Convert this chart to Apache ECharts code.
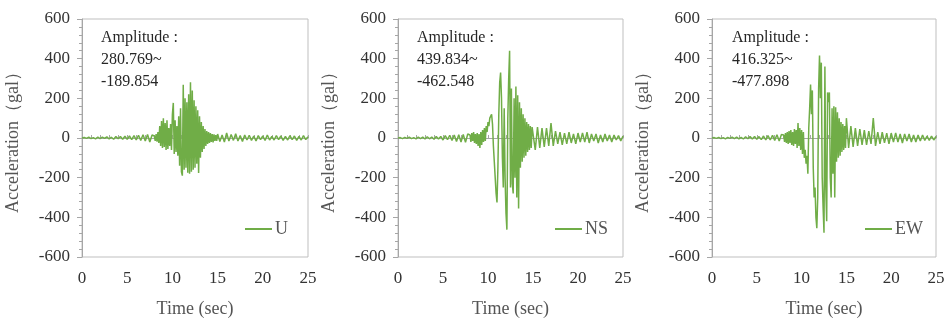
<!DOCTYPE html>
<html><head><meta charset="utf-8">
<script src="https://cdn.jsdelivr.net/npm/echarts@6/dist/echarts.min.js"></script>
<style>html,body{margin:0;padding:0;background:#fff}#c{width:944px;height:320px}</style>
</head><body><div id="c"></div>
<script>
// ---- data ----
const seriesNames = ['U', 'NS', 'EW'];
const amplitudeMax = ['280.769~', '439.834~', '416.325~'];
const amplitudeMin = ['-189.854', '-462.548', '-477.898'];
const xTicks = [0, 5, 10, 15, 20, 25];
const yTicks = [-600, -400, -200, 0, 200, 400, 600];

// sampling of segments (sec): pre 0..7.75 step .25, main 8..14.9 step .1, coda 15..25 step .25
const preStart = 0, preStep = 0.25;
const mainStart = 8, mainStep = 0.1;
const codaStart = 15, codaStep = 0.25;

const U_pre = [0,3,-2,4,-3,2,-4,5, -3,4,-2,6,-5,4,-6,7, -4,8,-6,9,-7,10,-8,12, -10,14,-12,16,-15,18,-20,15];
const U_main = [10,-15,20,-18,30,-25,60,-40,85,-50,
  100,-45,75,-60,90,-55,50,-40,70,-60,
  120,177,-80,90,-70,60,-90,110,-140,150,
  -170,-190,268,-160,200,-150,180,-175,220,-180,
  281,-170,240,-160,190,-150,160,-130,140,-177,
  110,-100,80,-70,60,-55,45,-40,35,-30,
  30,-25,25,-20,20,-22,18,-15,15,-14];
const U_coda = [20,-18,15,-20,25,-15,18,-12,22,-15, 12,-18,15,-10,14,-12,10,-15,12,-8,
  10,-12,15,-10,8,-10,12,-8,10,-12, 8,-10,12,-8,10,-12,8,-10,12,-8, 6];

const NS_pre = [0,2,-3,3,-2,4,-3,2, -4,5,-3,4,-5,6,-4,5, -6,7,-5,8,-10,12,-8,14, -12,15,-18,16,-20,18,-22,20];
const NS_main = [15,-20,25,-15,30,-25,20,-30,25,-40,
  20,-50,30,-35,40,-20,50,-15,60,30,
  80,60,100,90,120,70,-40,-120,-200,-280,
  -325,-150,120,280,330,200,-100,-250,150,-200,
  -380,-462,100,300,440,-250,250,-230,-280,200,
  -200,260,-300,215,-355,180,-150,150,-120,120,
  -100,100,-90,80,-70,70,-60,60,-50,55];
const NS_coda = [65,-60,55,-50,50,-45,50,-40,75,-40, 35,-30,30,-35,25,-30,30,-25,20,-30,
  25,-20,25,-20,30,-25,20,-15,20,-25, 15,-20,20,-15,15,-20,15,-10,12,-15, 10];

const EW_pre = [0,2,-2,3,-3,2,-4,3, -2,4,-3,5,-4,3,-5,6, -4,7,-5,8,-6,7,-8,10, -9,12,-10,14,-12,16,-15,18];
const EW_main = [15,-20,25,-25,30,-30,35,-25,40,-35,
  30,-40,45,-30,40,-50,75,-40,50,-60,
  40,-80,30,-100,-60,-130,-90,-180,50,150,
  270,120,240,-150,-300,-250,-400,-455,-300,250,
  416,200,380,-200,-350,-478,360,-250,-420,230,
  180,230,-200,-300,150,-180,160,-300,155,-120,
  130,-100,100,-90,80,-70,70,-60,60,-50];
const EW_coda = [100,-50,60,-45,50,-40,45,-35,40,-35, 35,-30,100,-40,30,-30,30,-25,25,-30,
  25,-20,25,-20,20,-25,20,-15,20,-20, 15,-20,15,-15,15,-12,10,-12,10,-10, 8];

// ---- build ----
function seg(start, step, vals) { return vals.map((v, i) => [+(start + i * step).toFixed(2), v]); }
function build(pre, main, coda) {
  return seg(preStart, preStep, pre).concat(seg(mainStart, mainStep, main), seg(codaStart, codaStep, coda));
}
const waves = [build(U_pre, U_main, U_coda), build(NS_pre, NS_main, NS_coda), build(EW_pre, EW_main, EW_coda)];

const FONT = '"Liberation Serif", "Times New Roman", serif';
const LABEL = '#333333';
const TITLE = '#555555';
const AXIS = '#a6a6a6';
const GREEN = '#70AD47';
const gridPos = [{left: 82, right: 636}, {left: 398, right: 321}, {left: 712, right: 8}];
const legendPos = [240, 550, 860];
const textPos = [101, 417, 732];

const grid = [], xAxis = [], yAxis = [], series = [], legend = [], graphic = [];
gridPos.forEach((g, i) => {
  grid.push({left: g.left, right: g.right, top: 19, bottom: 63, outerBoundsMode: 'none', containLabel: false,
    show: true, borderColor: '#bfbfbf', borderWidth: 1, backgroundColor: 'transparent'});
  xAxis.push({gridIndex: i, type: 'value', min: xTicks[0], max: xTicks[xTicks.length - 1], interval: 5,
    position: 'bottom', axisLine: {show: false, onZero: false}, axisTick: {show: false}, splitLine: {show: false},
    axisLabel: {fontFamily: FONT, fontSize: 17, color: LABEL, margin: 13},
    name: 'Time (sec)', nameLocation: 'middle', nameGap: 43,
    nameTextStyle: {fontFamily: FONT, fontSize: 18, color: TITLE}});
  xAxis.push({gridIndex: i, type: 'value', min: 0, max: 25, interval: 1,
    axisLine: {show: true, onZero: true, lineStyle: {color: AXIS, width: 1}},
    axisTick: {show: true, length: 3, lineStyle: {color: AXIS}}, axisLabel: {show: false}, splitLine: {show: false}});
  yAxis.push({gridIndex: i, type: 'value', min: yTicks[0], max: yTicks[yTicks.length - 1], interval: 200,
    axisLine: {show: true, onZero: false, lineStyle: {color: AXIS}},
    axisTick: {show: true, length: 5, lineStyle: {color: AXIS}},
    minorTick: {show: true, splitNumber: 5, length: 3, lineStyle: {color: AXIS}},
    splitLine: {show: false},
    axisLabel: {fontFamily: FONT, fontSize: 17, color: LABEL, margin: 12},
    name: 'Acceleration（gal）', nameLocation: 'middle', nameGap: 60,
    nameTextStyle: {fontFamily: FONT, fontSize: 18, color: TITLE}});
  series.push({name: seriesNames[i], type: 'line', xAxisIndex: 2 * i + 1, yAxisIndex: i, data: waves[i],
    showSymbol: false, symbol: 'none', lineStyle: {width: 1.5, color: GREEN}, itemStyle: {color: GREEN}});
  legend.push({data: [seriesNames[i]], left: legendPos[i], top: 215, icon: 'rect', itemWidth: 27, itemHeight: 2,
    itemGap: 4, textStyle: {fontFamily: FONT, fontSize: 18, color: TITLE, padding: [0, 0, 0, -2]}});
  graphic.push({type: 'text', left: textPos[i], top: 27,
    style: {text: 'Amplitude :\n' + amplitudeMax[i] + '\n' + amplitudeMin[i], font: '16px ' + FONT, lineHeight: 22, fill: '#262626'}});
});

const chart = echarts.init(document.getElementById('c'), null, {renderer: 'canvas'});
chart.setOption({animation: false, backgroundColor: '#fff', grid, xAxis, yAxis, series, legend, graphic});
</script></body></html>
